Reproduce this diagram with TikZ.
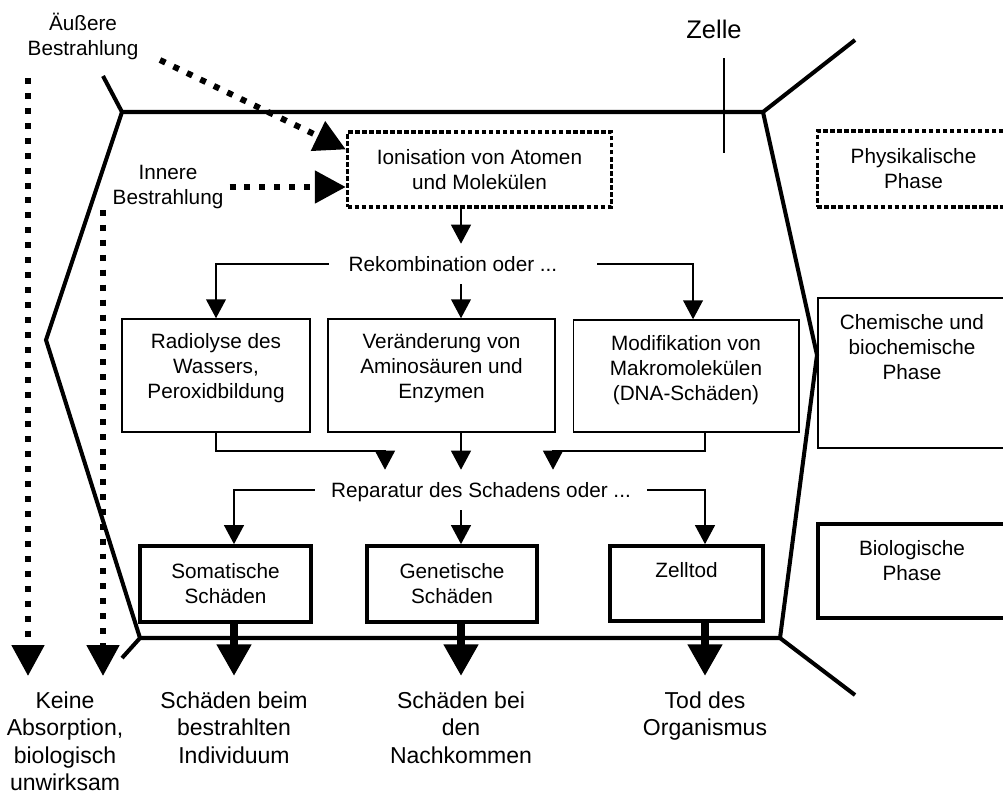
\documentclass[tikz,border=0pt]{standalone}
\usepackage{fontspec}
\setmainfont{Liberation Sans}
\usetikzlibrary{arrows.meta}
\begin{document}
\begin{tikzpicture}[x=0.02cm, y=-0.02cm,
        txt/.style={align=center, font=\fontsize{11.8}{14.2}\selectfont},
        thinbox/.style={draw, line width=1.1pt, txt},
        thickbox/.style={draw, line width=2.3pt, txt},
        dotbox/.style={draw, line width=2pt, dash pattern=on 2.6pt off 1.4pt, txt},
        midlbl/.style={txt, text height=8.45pt, text depth=0pt, inner xsep=11.3pt},
        outlbl/.style={align=center, anchor=north, inner ysep=8.8pt, font=\fontsize{13.1}{15.6}\selectfont},
        con/.style={line width=0.85pt, -{Triangle[width=11.3pt,length=10.8pt]}},
        bigarrow/.style={line width=4.5pt, -{Triangle[width=18.7pt,length=18pt]}},
        dotarrow/.style={line width=3.4pt, dash pattern=on 3.4pt off 5.1pt, -{Triangle[width=18pt,length=17.6pt]}},
        wall/.style={line width=2.3pt}]
        \useasboundingbox (0,0) rectangle (1003,796);
        \clip (0,0) rectangle (1003,796);

        % cell outline
        \draw[wall] (103,76) -- (122,112) -- (763,112) -- (855,40);
        \draw[wall] (122,112) -- (46,340) -- (140,638) -- (780,638) -- (817,355) -- (763,112);
        \draw[wall] (140,638) -- (122,658);
        \draw[wall] (780,638) -- (855,695);
        \draw[line width=1.2pt] (724,58) -- (724,153);
        \node[font=\fontsize{14.5}{17}\selectfont] (zelle) at (714,29) {Zelle};

        \coordinate (cl) at (234,0);
        \coordinate (cm) at (461,0);
        \coordinate (cr) at (705,0);

        % physical phase
        \node[txt] (aussen) at (83,36) {Äußere\\Bestrahlung};
        \node[txt] (innen) at (168,187) {Innere\\Bestrahlung};
        \node[dotbox, minimum width=150.2pt, minimum height=42.5pt] (ion) at (479.5,169.5) {Ionisation von Atomen\\und Molekülen};
        \node[dotbox, minimum width=109.4pt, minimum height=43.1pt] (phys) at (913.5,169) {Physikalische\\Phase};

        % chemical phase
        \node[midlbl, minimum height=22.7pt] (rek) at (453,264) {Rekombination oder ...};
        \node[thinbox, minimum width=106.6pt, minimum height=64.1pt] (radio) at (216,375.5) {};
        \node[txt] (radio-t) at (216,368) {Radiolyse des\\Wassers,\\Peroxidbildung};
        \node[thinbox, minimum width=128.7pt, minimum height=64.1pt] (verae) at (441.5,375.5) {};
        \node[txt] (verae-t) at (441.5,368) {Veränderung von\\Aminosäuren und\\Enzymen};
        \node[thinbox, minimum width=128.1pt, minimum height=63.5pt] (modif) at (686,376) {};
        \node[txt] (modif-t) at (686,370) {Modifikation von\\Makromolekülen\\(DNA-Schäden)};
        \node[thinbox, minimum width=108.8pt, minimum height=85pt] (chem) at (914,373) {};
        \node[txt] (chem-t) at (912,347) {Chemische und\\biochemische\\Phase};

        % biological phase
        \node[midlbl, minimum height=22.7pt, inner xsep=9.1pt] (rep) at (481,490) {Reparatur des Schadens oder ...};
        \node[thickbox, minimum width=96.9pt, minimum height=43.1pt] (soma) at (225.5,584) {Somatische\\Schäden};
        \node[thickbox, minimum width=96.4pt, minimum height=43.1pt] (gene) at (452,584) {Genetische\\Schäden};
        \node[thickbox, minimum width=86.7pt, minimum height=42.5pt] (zell) at (686.5,583.5) {};
        \node[txt] (zell-t) at (686.5,570) {Zelltod};
        \node[thickbox, minimum width=108.8pt, minimum height=53.3pt] (bio) at (914,571) {};
        \node[txt] (bio-t) at (912,560.5) {Biologische\\Phase};

        % results
        \node[outlbl] (keine) at (65,676) {Keine\\Absorption,\\biologisch\\unwirksam};
        \node[outlbl] (out1) at (cl |- 0,676) {Schäden beim\\bestrahlten\\Individuum};
        \node[outlbl] (out2) at (cm |- 0,676) {Schäden bei\\den\\Nachkommen};
        \node[outlbl] (out3) at (cr |- 0,676) {Tod des\\Organismus};

        % radiation
        \coordinate (ext0) at (28,78);
        \coordinate (int0) at (103,210);
        \coordinate (aus0) at (160,60);
        \draw[dotarrow] (ext0) -- (ext0 |- keine.north);
        \draw[dotarrow] (int0) -- (int0 |- keine.north);
        \draw[dotarrow] (aus0) -- ([yshift=-10.8pt]ion.north west);
        \draw[dotarrow] (innen.east) -- (innen.east -| ion.west);

        \draw[con] (ion.south -| cm) -- (rek.north -| cm);
        \draw[con] (rek.west) -| (radio.north);
        \draw[con] (rek.south -| cm) -- (verae.north -| cm);
        \draw[con] ([xshift=11.3pt]rek.east) -| ([xshift=4pt]modif.north);

        \coordinate (jl) at (385,451);
        \coordinate (jr) at (553,451);
        \draw[con] (radio.south) |- (jl) -- (jl |- rep.north);
        \draw[con] (verae.south -| cm) -- (rep.north -| cm);
        \draw[con] (modif.south -| cr) |- (jr) -- (jr |- rep.north);

        \draw[con] (rep.west) -| (soma.north -| cl);
        \draw[con] (rep.south -| cm) -- (gene.north -| cm);
        \draw[con] (rep.east) -| (zell.north -| cr);

        \draw[bigarrow] (soma.south -| cl) -- (out1.north);
        \draw[bigarrow] (gene.south -| cm) -- (out2.north);
        \draw[bigarrow] (zell.south -| cr) -- (out3.north);
    \end{tikzpicture}
\end{document}
